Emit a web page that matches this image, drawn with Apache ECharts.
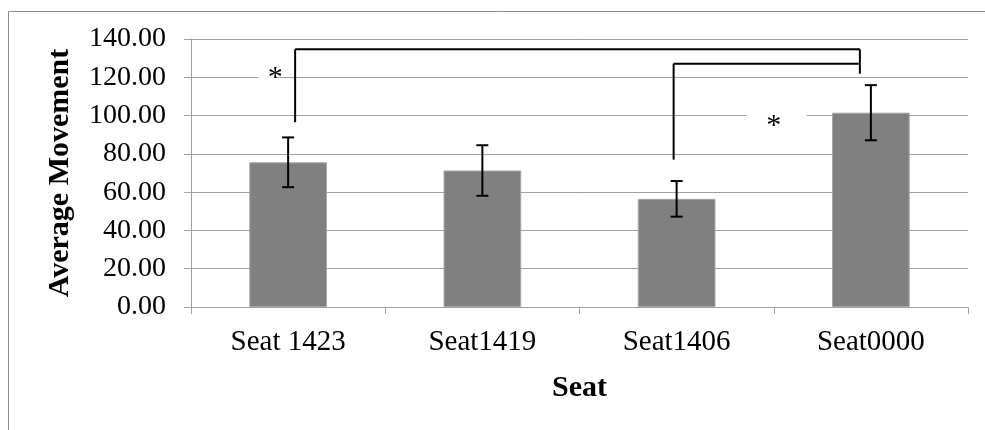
<!DOCTYPE html>
<html>
<head>
<meta charset="utf-8">
<script src="https://cdn.jsdelivr.net/npm/echarts@6/dist/echarts.min.js"></script>
<style>
  html, body { margin: 0; padding: 0; background: #fff; }
  #chart { width: 985px; height: 430px; }
</style>
</head>
<body>
<div id="chart"></div>
<script>
// Seat categories and mean movement with standard error
const categories = ['Seat 1423', 'Seat1419', 'Seat1406', 'Seat0000'];
const means = [75.6, 71.3, 56.5, 101.5];
const errors = [13.0, 13.2, 9.3, 14.4];

// Significance brackets: [from seat index, to seat index]
const sigPairs = [[0, 3], [2, 3]];
// height of each bracket's horizontal bar
const sigBarY = [134.6, 127.1];
// lower end of each bracket leg [from leg, to leg]; null = no leg
const sigLegEnd = [[96.5, 121.9], [77.0, null]];

// Asterisk markers: [seat index (fractional), value]
const starIndex = [-0.066, 2.5];
const starValue = [123.2, 97.9];

const yTicks = [0, 20, 40, 60, 80, 100, 120, 140];

const serif = "'Liberation Serif', 'Times New Roman', serif";
const gridColor = '#a0a0a0';

const chart = echarts.init(document.getElementById('chart'), null, { renderer: 'canvas' });

// pixel offsets of bracket legs from their seat centers
const legOffsets = [[7, -11], [-3, -12]];
// white label-box extents around each asterisk (px, relative to asterisk)
const starBoxes = [[-17, 0, -12, 16], [-27, 33, -18, 18]];

chart.setOption({
  animation: false,
  backgroundColor: '#fff',
  graphic: [{
    type: 'rect',
    shape: { x: 8.5, y: 11.5, width: 1200, height: 600 },
    style: { fill: 'none', stroke: '#8c8c8c', lineWidth: 1 },
    silent: true, z: 0
  }],
  grid: { left: 191, top: 39, width: 777, height: 268, containLabel: false },
  xAxis: {
    type: 'category',
    data: categories,
    name: 'Seat',
    nameLocation: 'middle',
    nameGap: 66,
    nameTextStyle: { fontFamily: serif, fontSize: 30, fontWeight: 'bold', color: '#000' },
    axisLine: { show: true, lineStyle: { color: gridColor, width: 1 } },
    axisTick: { show: true, alignWithLabel: false, length: 7, lineStyle: { color: gridColor } },
    axisLabel: { fontFamily: serif, fontSize: 29, color: '#000', margin: 21 },
    splitLine: { show: false }
  },
  yAxis: {
    type: 'value',
    min: yTicks[0],
    max: yTicks[yTicks.length - 1],
    interval: yTicks[1] - yTicks[0],
    name: 'Average Movement',
    nameLocation: 'middle',
    nameGap: 116,
    nameTextStyle: { fontFamily: serif, fontSize: 30, fontWeight: 'bold', color: '#000' },
    axisLine: { show: true, lineStyle: { color: gridColor, width: 1 } },
    axisTick: { show: true, length: 7, lineStyle: { color: gridColor } },
    axisLabel: { fontFamily: serif, fontSize: 28, color: '#000', margin: 25,
                 formatter: v => v.toFixed(2) },
    splitLine: { show: true, lineStyle: { color: gridColor, width: 1 } }
  },
  series: [
    {
      // asterisk labels with white boxes over the gridlines
      type: 'custom',
      z: 3,
      data: starIndex.map((s, i) => [s, starValue[i]]),
      renderItem: function (params, api) {
        const i = params.dataIndex;
        const v = api.value(0);
        const base = Math.floor(v);
        const band = api.size([1, 0])[0];
        const x = api.coord([base, 0])[0] + (v - base) * band;
        const y = api.coord([0, api.value(1)])[1];
        const b = starBoxes[i];
        return {
          type: 'group',
          children: [
            { type: 'rect', shape: { x: x + b[0], y: y + b[2], width: b[1] - b[0], height: b[3] - b[2] },
              style: { fill: '#fff' } },
            { type: 'text', x: x, y: y + 7,
              style: { text: '*', font: '30px ' + serif, fill: '#000', align: 'center', verticalAlign: 'middle' } }
          ]
        };
      }
    },
    {
      type: 'bar',
      data: means,
      barWidth: '40%',
      z: 4,
      itemStyle: { color: '#808080', borderColor: '#a6a6a6', borderWidth: 1 }
    },
    {
      // error bars
      type: 'custom',
      z: 5,
      data: means.map((m, i) => [i, m - errors[i], m + errors[i]]),
      renderItem: function (params, api) {
        const x = api.coord([api.value(0), 0])[0];
        const lo = api.coord([api.value(0), api.value(1)])[1];
        const hi = api.coord([api.value(0), api.value(2)])[1];
        const half = 6;
        const st = { stroke: '#000', lineWidth: 2 };
        return {
          type: 'group',
          children: [
            { type: 'line', shape: { x1: x, y1: lo, x2: x, y2: hi }, style: st },
            { type: 'line', shape: { x1: x - half, y1: hi, x2: x + half, y2: hi }, style: st },
            { type: 'line', shape: { x1: x - half, y1: lo, x2: x + half, y2: lo }, style: st }
          ]
        };
      }
    },
    {
      // significance brackets
      type: 'custom',
      z: 6,
      data: sigPairs.map((p, k) => [p[0], p[1], sigBarY[k],
        sigLegEnd[k][0] == null ? NaN : sigLegEnd[k][0],
        sigLegEnd[k][1] == null ? NaN : sigLegEnd[k][1]]),
      renderItem: function (params, api) {
        const k = params.dataIndex;
        const off = legOffsets[k];
        const x1 = api.coord([api.value(0), 0])[0] + off[0];
        const x2 = api.coord([api.value(1), 0])[0] + off[1];
        const yTop = api.coord([0, api.value(2)])[1];
        const st = { stroke: '#000', lineWidth: 2 };
        const children = [
          { type: 'line', shape: { x1: x1, y1: yTop, x2: x2, y2: yTop }, style: st }
        ];
        const e1 = api.value(3), e2 = api.value(4);
        if (!isNaN(e1)) {
          children.push({ type: 'line', shape: { x1: x1, y1: yTop, x2: x1, y2: api.coord([0, e1])[1] }, style: st });
        }
        if (!isNaN(e2)) {
          children.push({ type: 'line', shape: { x1: x2, y1: yTop, x2: x2, y2: api.coord([0, e2])[1] }, style: st });
        }
        return { type: 'group', children: children };
      }
    }
  ]
});
</script>
</body>
</html>
